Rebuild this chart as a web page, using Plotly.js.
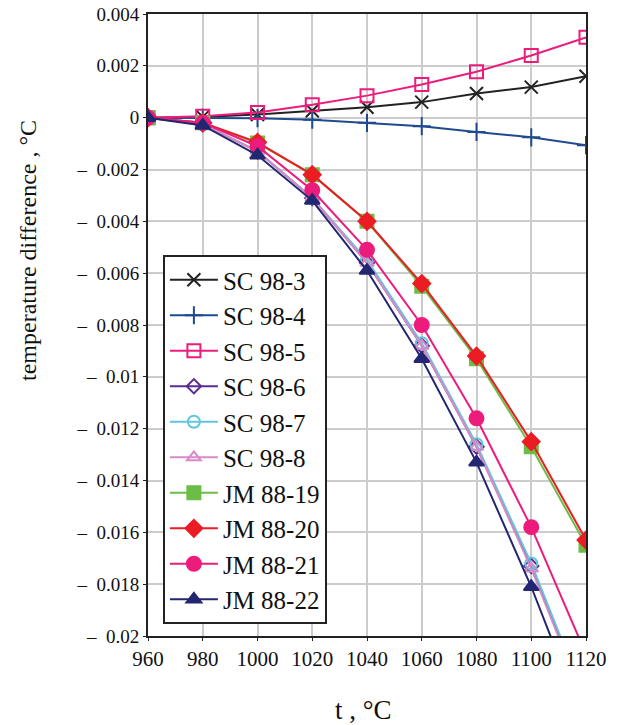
<!DOCTYPE html>
<html>
<head>
<meta charset="utf-8">
<script src="https://cdn.plot.ly/plotly-3.0.1.min.js"></script>
<style>html,body{margin:0;padding:0;background:#fff;}#chart{width:627px;height:725px;}</style>
</head>
<body>
<div id="chart"></div>
<script>
var temps = [960, 980, 1000, 1020, 1040, 1060, 1080, 1100, 1120];

var sc98_3 = [0, 0.00003, 0.00012, 0.00027, 0.0004, 0.0006, 0.00093, 0.00118, 0.0016];
var sc98_4 = [0, 0.0, -0.00002, -0.00008, -0.0002, -0.00033, -0.00055, -0.00076, -0.00106];
var sc98_5 = [0, 0.00005, 0.0002, 0.0005, 0.00085, 0.00128, 0.00177, 0.0024, 0.0031];
var sc98_6 = [0, -0.00025, -0.0013, -0.0031, -0.0056, -0.0088, -0.0127, -0.0173, -0.0226];
var sc98_7 = [0, -0.00025, -0.0013, -0.0031, -0.0055, -0.0087, -0.0126, -0.0172, -0.0225];
var sc98_8 = [0, -0.00025, -0.0013, -0.0031, -0.0056, -0.0088, -0.0127, -0.0174, -0.0227];
var jm88_19 = [0, -0.0002, -0.00098, -0.0022, -0.0040, -0.0065, -0.0093, -0.0127, -0.0165];
var jm88_20 = [0, -0.0002, -0.00095, -0.0022, -0.0040, -0.0064, -0.0092, -0.0125, -0.0163];
var jm88_21 = [0, -0.0002, -0.0011, -0.0028, -0.0051, -0.0080, -0.0116, -0.0158, -0.0207];
var jm88_22 = [0, -0.0003, -0.00145, -0.0032, -0.0059, -0.0093, -0.0133, -0.0181, -0.0235];

var seriesNames = ["SC 98-3","SC 98-4","SC 98-5","SC 98-6","SC 98-7","SC 98-8","JM 88-19","JM 88-20","JM 88-21","JM 88-22"];
var seriesData = [sc98_3, sc98_4, sc98_5, sc98_6, sc98_7, sc98_8, jm88_19, jm88_20, jm88_21, jm88_22];
var colors = ["#222222","#1f4b8e","#ec1c7c","#5b2c92","#5fc6dd","#d98ac6","#6cbd45","#ec1c24","#ec1c7c","#232671"];
var symbols = ["x-thin-open","cross-thin-open","square-open","diamond-open","circle-open","triangle-up-open","square","diamond","circle","triangle-up"];
var sizes = [13,13,13,11,12,12,13,13,14,13];

var yTickVals = [0.004,0.002,0,-0.002,-0.004,-0.006,-0.008,-0.01,-0.012,-0.014,-0.016,-0.018,-0.02];
var yTickText = ["0.004","0.002","0","\u2013\u20020.002","\u2013\u20020.004","\u2013\u20020.006","\u2013\u20020.008","\u2013\u20020.01","\u2013\u20020.012","\u2013\u20020.014","\u2013\u20020.016","\u2013\u20020.018","\u2013\u20020.02"];
var xTickVals = [960,980,1000,1020,1040,1060,1080,1100,1120];

var traces = seriesData.map(function(d, i){
  return {
    x: temps, y: d, name: seriesNames[i], type: 'scatter', mode: 'lines+markers',
    line: {color: colors[i], width: 2},
    marker: {symbol: symbols[i], size: sizes[i], color: colors[i], line: {color: colors[i], width: 2}}
  };
});

var font = "Liberation Serif";
var layout = {
  width: 627, height: 725,
  margin: {l: 148, r: 41, t: 14, b: 89},
  paper_bgcolor: '#fff', plot_bgcolor: '#fff',
  font: {family: font, color: '#111', size: 18},
  showlegend: true,
  legend: {
    x: 0.034, y: 0.6125, xanchor: 'left', yanchor: 'top',
    bgcolor: '#fff', bordercolor: '#222', borderwidth: 2,
    font: {family: font, size: 25, color: '#111'},
    itemwidth: 48
  },
  xaxis: {
    range: [960, 1120], tickvals: xTickVals, ticktext: xTickVals.map(String),
    showgrid: true, gridcolor: '#cccccc', gridwidth: 2,
    showline: true, linecolor: '#222', linewidth: 2, mirror: true,
    ticks: 'outside', ticklen: 3, tickcolor: '#222', zeroline: false,
    tickfont: {family: font, size: 21, color: '#111'}
  },
  yaxis: {
    range: [-0.02, 0.004], tickvals: yTickVals, ticktext: yTickText,
    showgrid: true, gridcolor: '#cccccc', gridwidth: 2,
    showline: true, linecolor: '#222', linewidth: 2, mirror: true,
    ticks: 'outside', ticklen: 3, tickcolor: '#222', zeroline: false,
    tickfont: {family: font, size: 19, color: '#111'}
  },
  annotations: [
    {text: 'temperature difference , \u00b0C', xref: 'paper', yref: 'paper', x: -0.274, y: 0.6206,
     xanchor: 'center', yanchor: 'middle', textangle: -90, showarrow: false,
     font: {family: font, size: 24, color: '#111'}},
    {text: 't , \u00b0C', xref: 'paper', yref: 'paper', x: 0.493, y: -0.119,
     xanchor: 'center', yanchor: 'middle', showarrow: false,
     font: {family: font, size: 27, color: '#111'}}
  ]
};

Plotly.newPlot('chart', traces, layout, {displayModeBar: false, staticPlot: true});
</script>
</body>
</html>
